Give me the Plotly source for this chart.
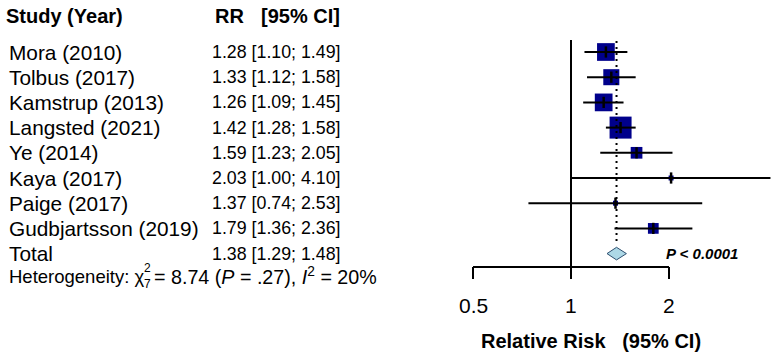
import numpy as np
import plotly.graph_objects as go

# ---------------- data ----------------
studies = ["Mora (2010)", "Tolbus (2017)", "Kamstrup (2013)", "Langsted (2021)",
           "Ye (2014)", "Kaya (2017)", "Paige (2017)", "Gudbjartsson (2019)"]
rr = [1.28, 1.33, 1.26, 1.42, 1.59, 2.03, 1.37, 1.79]
ci_low = [1.10, 1.12, 1.09, 1.28, 1.23, 1.00, 0.74, 1.36]
ci_high = [1.49, 1.58, 1.45, 1.58, 2.05, 4.10, 2.53, 2.36]
weights = [18.8, 15.4, 18.8, 29.0, 8.2, 1.5, 1.5, 6.9]

total_label = "Total"
total_rr, total_low, total_high = 1.38, 1.29, 1.48
p_overall = "P &lt; 0.0001"
het_chi2, het_df, het_p, het_i2 = "8.74", "7", ".27", "20%"

tick_vals = [0.5, 1, 2]
tick_text = ["0.5", "1", "2"]

# ---------------- geometry ----------------
W, H = 777, 358
X_ONE_PX, PX_PER_DEC = 571.0, 325.5
ROW0_PX, ROW_H = 52.0, 25.2
FONT = "Liberation Sans, Arial, Helvetica, sans-serif"
FS = 20.8


def ky(px):
    return (px - ROW0_PX) / ROW_H


def px2paper(px):
    return px / W


n = len(studies)
rows = list(range(n))
total_row = n

fig = go.Figure()

# boxes (drawn first so CI lines lie on top)
box_sizes = [22 * np.sqrt(w / max(weights)) for w in weights]
fig.add_trace(go.Scatter(x=rr, y=rows, mode="markers",
                         marker=dict(symbol="square", size=box_sizes, color="#00008B",
                                     opacity=1, line=dict(width=0)),
                         hoverinfo="skip", showlegend=False))

# CI lines
cx, cy = [], []
for i in rows:
    cx += [ci_low[i], ci_high[i], None]
    cy += [i, i, None]
fig.add_trace(go.Scatter(x=cx, y=cy, mode="lines", line=dict(color="black", width=2),
                         hoverinfo="skip", showlegend=False))

# point-estimate ticks
fig.add_trace(go.Scatter(x=rr, y=rows, mode="markers",
                         marker=dict(symbol="line-ns", size=8, opacity=1,
                                     line=dict(width=2.5, color="black")),
                         hoverinfo="skip", showlegend=False))

# reference line at 1
fig.add_trace(go.Scatter(x=[1, 1], y=[ky(40), ky(267)], mode="lines",
                         line=dict(color="black", width=2),
                         hoverinfo="skip", showlegend=False))

# dotted line at pooled estimate
fig.add_trace(go.Scatter(x=[total_rr, total_rr], y=[ky(41), ky(244)], mode="lines",
                         line=dict(color="black", width=2, dash="2px,4px"),
                         hoverinfo="skip", showlegend=False))

# diamond
dh = 0.25
fig.add_trace(go.Scatter(x=[total_low, total_rr, total_high, total_rr, total_low],
                         y=[total_row, total_row - dh, total_row, total_row + dh, total_row],
                         mode="lines", fill="toself", fillcolor="#ADD8E6",
                         line=dict(color="#2F4F6F", width=1),
                         hoverinfo="skip", showlegend=False))

# x axis line + ticks
ax_y = ky(267)
fig.add_trace(go.Scatter(x=[tick_vals[0], tick_vals[-1]], y=[ax_y, ax_y], mode="lines",
                         line=dict(color="black", width=2),
                         hoverinfo="skip", showlegend=False))
tx, ty = [], []
for v in tick_vals:
    tx += [v, v, None]
    ty += [ax_y, ky(279), None]
fig.add_trace(go.Scatter(x=tx, y=ty, mode="lines", line=dict(color="black", width=2),
                         hoverinfo="skip", showlegend=False))

ann = []


def text(xpx, ypx, s, size=FS, anchor="left", bold=False, xdata=None):
    if bold:
        s = "<b>" + s + "</b>"
    d = dict(text=s, showarrow=False, yref="y", y=ky(ypx), xanchor=anchor,
             yanchor="middle", borderpad=0,
             font=dict(family=FONT, size=size, color="black"))
    if xdata is not None:
        d.update(xref="x", x=np.log10(xdata))
    else:
        d.update(xref="paper", x=px2paper(xpx))
    ann.append(d)


# headers
text(5, 16, "Study (Year)", size=20, bold=True)
text(214, 16, "RR", size=20, bold=True)
text(260, 16, "[95% CI]", size=20, bold=True)

# study rows
VFS = 17.8
for i in rows:
    ypx = ROW0_PX + ROW_H * i
    text(8, ypx, studies[i])
    text(211, ypx, f"{rr[i]:.2f} [{ci_low[i]:.2f}; {ci_high[i]:.2f}]", size=VFS)

ypx = ROW0_PX + ROW_H * total_row
text(8, ypx, total_label)
text(211, ypx, f"{total_rr:.2f} [{total_low:.2f}; {total_high:.2f}]", size=VFS)

# heterogeneity
hy = 276
text(8, hy, "Heterogeneity: χ", size=18.5)
text(143, hy - 8, "2", size=12)
text(143, hy + 8, het_df, size=12)
text(153, hy, f"= {het_chi2} (<i>P</i> = {het_p}), <i>I</i><sup>2</sup> = {het_i2}", size=19.7)

# overall p
text(665, 253, "<i>" + p_overall + "</i>", size=15, bold=True)

# tick labels
for v, t in zip(tick_vals, tick_text):
    text(None, 305, t, size=21, anchor="center", xdata=v)

# axis title
text(591, 341, "Relative Risk\u00a0\u00a0 (95% CI)", size=20, anchor="center", bold=True)

fig.update_layout(
    width=W, height=H, margin=dict(l=0, r=0, t=0, b=0),
    paper_bgcolor="white", plot_bgcolor="white",
    xaxis=dict(type="log", range=[(0 - X_ONE_PX) / PX_PER_DEC, (W - X_ONE_PX) / PX_PER_DEC],
               visible=False, fixedrange=True),
    yaxis=dict(range=[ky(H), ky(0)], visible=False, fixedrange=True),
    annotations=ann, showlegend=False, hovermode=False,
)

fig.write_html("out.html", config={"displayModeBar": False, "staticPlot": True},
               post_script="document.body.style.margin='0';document.body.style.overflow='hidden';")
